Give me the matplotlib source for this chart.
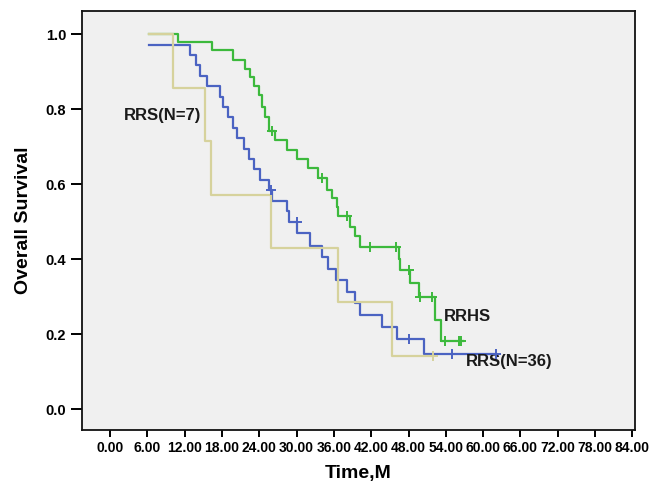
import numpy as np
import matplotlib
matplotlib.use("Agg")
import matplotlib.pyplot as plt

# Kaplan-Meier curves: event times (months) and survival after each step
rrhs_t = [6.3, 11.0, 16.4, 19.8, 21.7, 22.5, 23.1, 23.9, 24.4, 24.9, 25.5, 26.6, 28.4, 30.0,
          31.9, 33.5, 34.9, 35.7, 36.5, 36.7, 38.6, 39.4, 40.2, 46.4, 46.7, 48.3, 49.7, 52.3, 53.3]
rrhs_s = [1.0, 0.978, 0.957, 0.931, 0.908, 0.886, 0.862, 0.837, 0.806, 0.780, 0.742, 0.717, 0.690, 0.668,
          0.642, 0.617, 0.584, 0.562, 0.539, 0.515, 0.486, 0.462, 0.433, 0.400, 0.372, 0.337, 0.300, 0.237, 0.182]
rrhs_cens = [26.0, 34.1, 38.1, 41.8, 46.0, 48.0, 49.9, 51.8, 53.9, 56.1, 56.5]
rrhs_end = 56.8

rrs36_t = [6.3, 12.9, 13.9, 14.5, 15.6, 17.7, 18.2, 18.9, 19.8, 20.4, 21.5, 22.4, 23.1, 24.1, 25.5,
           26.1, 28.4, 28.8, 30.1, 32.2, 34.1, 35.1, 36.3, 38.1, 39.4, 40.2, 43.7, 46.1, 50.5]
rrs36_s = [0.972, 0.944, 0.917, 0.889, 0.861, 0.833, 0.806, 0.778, 0.750, 0.722, 0.694, 0.667, 0.639, 0.611, 0.583,
           0.556, 0.528, 0.500, 0.469, 0.436, 0.406, 0.373, 0.344, 0.312, 0.282, 0.250, 0.219, 0.188, 0.148]
rrs36_cens = [25.9, 30.0, 48.0, 55.0, 62.0]
rrs36_end = 62.0

rrs7_t = [6.3, 10.2, 15.3, 16.2, 25.9, 36.6, 45.3]
rrs7_s = [1.0, 6 / 7, 5 / 7, 4 / 7, 3 / 7, 2 / 7, 1 / 7]
rrs7_cens = [52.0]
rrs7_end = 52.0

xticks = np.arange(0, 85, 6)
yticks = [0.0, 0.2, 0.4, 0.6, 0.8, 1.0]


def km_line(ax, t, s, cens, end, color):
    tt = list(t) + [end]
    ss = list(s) + [s[-1]]
    ax.step(tt, ss, where="post", color=color, lw=1.6, zorder=3)
    idx = np.searchsorted(t, cens, side="right") - 1
    cy = np.array(s)[idx]
    ax.plot(cens, cy, "+", color=color, ms=7, mew=1.4, zorder=4)


plt.rcParams["font.family"] = ["Liberation Sans", "DejaVu Sans"]

fig = plt.figure(figsize=(6.62, 4.86), dpi=100)
ax = fig.add_axes([0.124, 0.115, 0.835, 0.862])
ax.set_facecolor("#f0f0f0")

km_line(ax, rrhs_t, rrhs_s, rrhs_cens, rrhs_end, "#3cb93c")
km_line(ax, rrs36_t, rrs36_s, rrs36_cens, rrs36_end, "#4b63c2")
km_line(ax, rrs7_t, rrs7_s, rrs7_cens, rrs7_end, "#d6d29c")

ax.text(8.4, 0.784, "RRS(N=7)", fontsize=12, fontweight="bold", color="#1a1a1a", ha="center", va="center")
ax.text(57.5, 0.246, "RRHS", fontsize=12, fontweight="bold", color="#1a1a1a", ha="center", va="center")
ax.text(64.2, 0.126, "RRS(N=36)", fontsize=12, fontweight="bold", color="#1a1a1a", ha="center", va="center")

ax.set_xlim(-4.5, 84.4)
ax.set_ylim(-0.056, 1.061)
ax.set_xticks(xticks)
ax.set_xticklabels(["%.2f" % v for v in xticks], fontsize=10, fontweight="bold")
ax.set_yticks(yticks)
ax.set_yticklabels(["%.1f" % v for v in yticks], fontsize=10.5, fontweight="bold")
ax.tick_params(axis="x", length=5, width=1.4, pad=3)
ax.tick_params(axis="y", length=8, width=1.4, pad=3.5)
for sp in ax.spines.values():
    sp.set_linewidth(1.3)
    sp.set_color("#111111")

ax.set_xlabel("Time,M", fontsize=14, fontweight="bold", labelpad=7)
ax.set_ylabel("Overall Survival", fontsize=14, fontweight="bold", labelpad=10)

fig.savefig("out.png", dpi=100)
